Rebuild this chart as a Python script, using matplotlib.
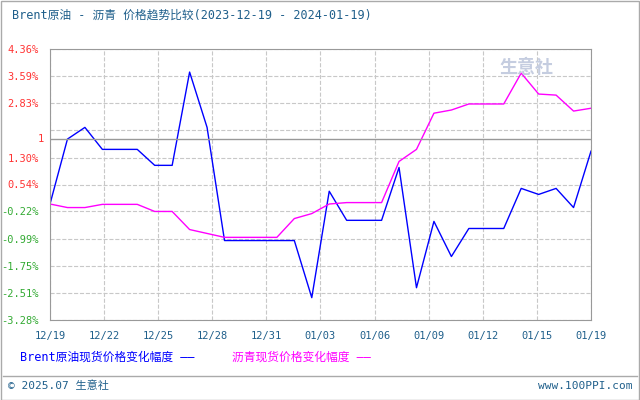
import matplotlib
matplotlib.use('Agg')
import matplotlib.pyplot as plt
import numpy as np

plt.rcParams['font.family'] = ['DejaVu Sans Mono', 'Noto Sans CJK SC']

# daily change (%) per trading day, 2023-12-19 .. 2024-01-19
brent = [-0.01, 1.82, 2.15, 1.53, 1.53, 1.53, 1.08, 1.08, 3.71, 2.15,
         -1.04, -1.04, -1.04, -1.04, -1.04, -2.65, 0.35, -0.47, -0.47, -0.47,
         1.02, -2.37, -0.50, -1.49, -0.70, -0.70, -0.70, 0.43, 0.26, 0.43,
         -0.11, 1.48]
asphalt = [-0.01, -0.11, -0.11, -0.02, -0.02, -0.02, -0.22, -0.22, -0.73, -0.84,
           -0.95, -0.95, -0.95, -0.95, -0.42, -0.28, -0.01, 0.03, 0.03, 0.03,
           1.19, 1.53, 2.55, 2.64, 2.81, 2.81, 2.81, 3.68, 3.09, 3.06,
           2.61, 2.69]
date_labels = ['12/19', '12/22', '12/25', '12/28', '12/31', '01/03',
               '01/06', '01/09', '01/12', '01/15', '01/19']
y_ticks = [4.36, 3.59, 2.83, 2.07, 1.30, 0.54, -0.22, -0.99, -1.75, -2.51, -3.28]
ref_level = 1.82

fig = plt.figure(figsize=(6.4, 4.0), dpi=100)
ax = fig.add_axes([50/640, 80/400, 541/640, 271/400])

x = np.arange(len(brent))
ax.plot(x, brent, color='#0000ff', lw=1)
ax.plot(x, asphalt, color='#ff00ff', lw=1)
ax.axhline(ref_level, color='#999999', lw=1)

ax.set_xlim(0, len(brent) - 1)
ax.set_ylim(y_ticks[-1], y_ticks[0])
ax.set_xticks(np.linspace(0, len(brent) - 1, len(date_labels)))
ax.set_xticklabels(date_labels, fontsize=7.5, color='#1f5f8b')
ax.set_yticks(y_ticks)
ylabels = ['' if v == 2.07 else f'{v:.2f}%' for v in y_ticks]
ax.set_yticklabels(ylabels, fontsize=7.5)
for lab, v in zip(ax.get_yticklabels(), y_ticks):
    lab.set_color('#ff3333' if v > 0 else '#33aa33')
ax.text(-0.012, ref_level, '1', transform=ax.get_yaxis_transform(),
        ha='right', va='center', fontsize=7.5, color='#ff3333')
ax.tick_params(length=0, pad=8)
ax.grid(True, color='#c8c8c8', ls='--', lw=0.8)
for s in ax.spines.values():
    s.set_color('#999999')

ax.text(0.93, 0.93, '生意社', transform=ax.transAxes, ha='right', va='center',
        fontsize=13, color='#c5cde0', weight='bold')

fig.text(12/640, 1-15/400, 'Brent原油 - 沥青 价格趋势比较(2023-12-19 - 2024-01-19)',
         fontsize=8.5, color='#1f5f8b', va='center')
fig.text(20/640, 1-357/400, 'Brent原油现货价格变化幅度 ——', fontsize=8.5,
         color='#0000ff', va='center')
fig.text(232/640, 1-357/400, '沥青现货价格变化幅度 ——', fontsize=8.5,
         color='#ff00ff', va='center')
fig.add_artist(plt.Line2D([0.005, 0.995], [1-376/400]*2, color='#aaaaaa', lw=1))
fig.text(8/640, 1-386/400, '© 2025.07 生意社', fontsize=8, color='#1f5f8b', va='center')
fig.text(632/640, 1-386/400, 'www.100PPI.com', fontsize=8, color='#1f5f8b',
         va='center', ha='right')
fig.add_artist(plt.Rectangle((0.001, 0.001), 0.997, 0.997, fill=False,
                             ec='#aaaaaa', lw=1, transform=fig.transFigure))

fig.savefig('out.png', dpi=100)
